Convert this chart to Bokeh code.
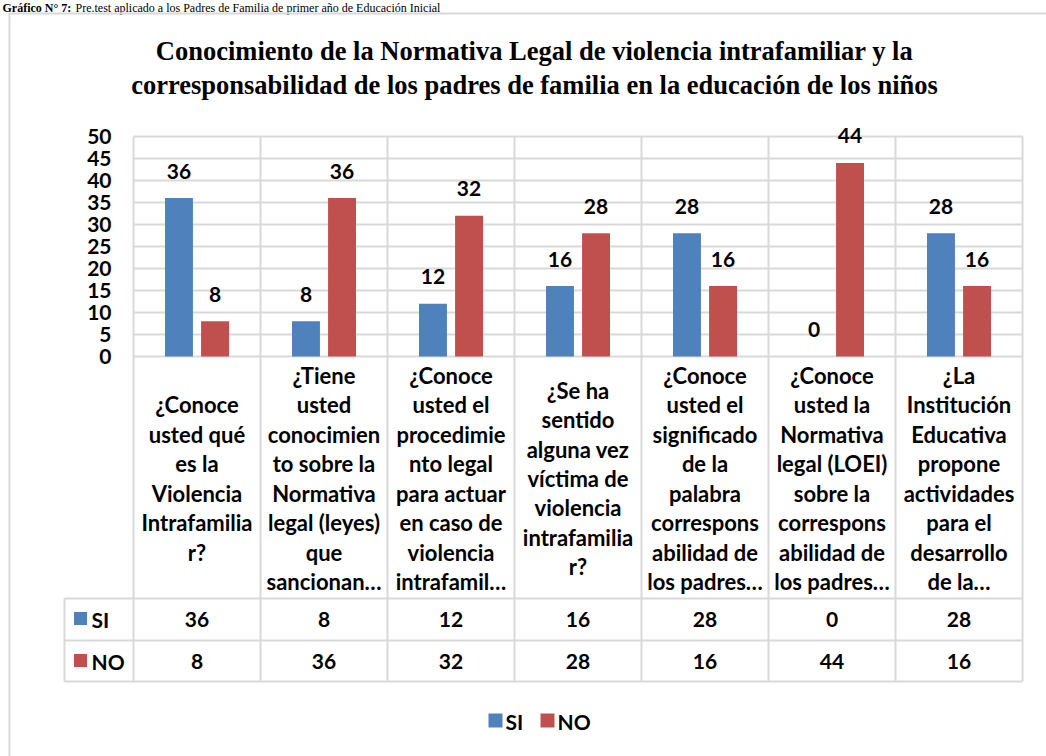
from bokeh.plotting import figure
from bokeh.models import Range1d, ColumnDataSource
from bokeh.core.properties import value
from bokeh.embed import file_html
from bokeh.resources import INLINE

# ---------------- data ----------------
categories = [
    "¿Conoce\nusted qué\nes la\nViolencia\nIntrafamilia\nr?",
    "¿Tiene\nusted\nconocimien\nto sobre la\nNormativa\nlegal (leyes)\nque\nsancionan…",
    "¿Conoce\nusted el\nprocedimie\nnto legal\npara actuar\nen caso de\nviolencia\nintrafamil…",
    "¿Se ha\nsentido\nalguna vez\nvíctima de\nviolencia\nintrafamilia\nr?",
    "¿Conoce\nusted el\nsignificado\nde la\npalabra\ncorrespons\nabilidad de\nlos padres…",
    "¿Conoce\nusted la\nNormativa\nlegal (LOEI)\nsobre la\ncorrespons\nabilidad de\nlos padres…",
    "¿La\nInstitución\nEducativa\npropone\nactividades\npara el\ndesarrollo\nde la…",
]
si_values = [36, 8, 12, 16, 28, 0, 28]
no_values = [8, 36, 32, 28, 16, 44, 16]
series_names = ["SI", "NO"]
y_ticks = [0, 5, 10, 15, 20, 25, 30, 35, 40, 45, 50]
title_lines = [
    "Conocimiento de la Normativa Legal de violencia intrafamiliar y la",
    "corresponsabilidad de los padres de familia en la educación de los niños",
]
caption_bold = "Gráfico N° 7:"
caption_rest = "Pre.test aplicado a los Padres de Familia de primer año de Educación Inicial"

# ---------------- layout / style ----------------
W, H = 1046, 756
PAGE = 0
PLOT_LEFT_PX = 133      # page px of category axis start
CAT_PX = 127            # px per category
ZERO_PX = 356           # page px of value 0
UNIT_PX = 4.4           # px per value unit
Y_MAX = 50

def X(px):
    return (px - PLOT_LEFT_PX) / CAT_PX

def Y(py):
    return (ZERO_PX - py) / UNIT_PX

BLUE = "#4F81BD"
RED = "#C0504D"
GRID = "#D9D9D9"
TXT = "#000000"
SANS = value("Lato")
SERIF = value("Liberation Serif")
NUM_SIZE = "21px"
CAT_SIZE = "22px"

p = figure(width=W, height=H,
           x_range=Range1d(X(PAGE), X(PAGE + W)),
           y_range=Range1d(Y(PAGE + H), Y(PAGE)),
           x_axis_type=None, y_axis_type=None,
           output_backend="svg", toolbar_location=None,
           min_border=0)
p.outline_line_color = None
p.background_fill_color = "white"
p.border_fill_color = "white"

n = len(categories)
centers = [i + 0.5 for i in range(n)]

# caption above the chart
p.text(x=[X(2)], y=[Y(0)], text=[caption_bold], text_font=SERIF, text_font_style="bold",
       text_font_size="12px", text_color=TXT, text_align="left", text_baseline="top")
p.text(x=[X(75)], y=[Y(0)], text=[caption_rest], text_font=SERIF, text_font_style="normal",
       text_font_size="12px", text_color=TXT, text_align="left", text_baseline="top")

# outer chart border (left and top edges visible)
p.segment(x0=[X(9), X(8)], y0=[Y(13), Y(13)], x1=[X(9), X(1060)], y1=[Y(770), Y(13)],
          line_color=GRID, line_width=2)

# horizontal gridlines
p.segment(x0=[0] * len(y_ticks), y0=y_ticks, x1=[n] * len(y_ticks), y1=y_ticks,
          line_color=GRID, line_width=2)
# vertical category lines running through labels and table
table_top, table_mid, table_bot = Y(598), Y(640), Y(681)
p.segment(x0=list(range(n + 1)), y0=[Y_MAX] * (n + 1), x1=list(range(n + 1)), y1=[table_bot] * (n + 1),
          line_color=GRID, line_width=2)
# table lines
p.segment(x0=[X(64)] * 3, y0=[table_top, table_mid, table_bot], x1=[n] * 3,
          y1=[table_top, table_mid, table_bot], line_color=GRID, line_width=2)
p.segment(x0=[X(64)], y0=[table_top], x1=[X(64)], y1=[table_bot], line_color=GRID, line_width=2)

# bars
offset = 0.142
bw = 0.22
src = ColumnDataSource(dict(
    x_si=[c - offset for c in centers], x_no=[c + offset for c in centers],
    si=si_values, no=no_values,
    si_txt=[str(v) for v in si_values], no_txt=[str(v) for v in no_values],
))
p.vbar(x="x_si", top="si", bottom=0, width=bw, fill_color=BLUE, line_color=None, source=src)
p.vbar(x="x_no", top="no", bottom=0, width=bw, fill_color=RED, line_color=None, source=src)

# data labels
lab_kw = dict(text_font=SANS, text_font_style="bold", text_font_size=NUM_SIZE,
              text_color=TXT, text_align="center", text_baseline="middle", y_offset=-27)
p.text(x="x_si", y="si", text="si_txt", source=src, **lab_kw)
p.text(x="x_no", y="no", text="no_txt", source=src, **lab_kw)

# y tick labels
p.text(x=[X(111)] * len(y_ticks), y=y_ticks, text=[str(t) for t in y_ticks],
       text_font=SANS, text_font_style="bold", text_font_size=NUM_SIZE, text_color=TXT,
       text_align="right", text_baseline="middle")

# title
p.text(x=[X(534)] * 2, y=[Y(50), Y(84)], text=title_lines,
       text_font=SERIF, text_font_style="bold", text_font_size="26.5px", text_color=TXT,
       text_align="center", text_baseline="middle")

# category labels
p.text(x=centers, y=[Y(478)] * n, text=categories,
       text_font=SANS, text_font_style="bold", text_font_size=CAT_SIZE, text_color=TXT,
       text_align="center", text_baseline="middle", text_line_height=1.09)

# data table values
tbl_kw = dict(text_font=SANS, text_font_style="bold", text_font_size=NUM_SIZE,
              text_color=TXT, text_baseline="middle")
p.text(x=centers, y=[Y(619)] * n, text=[str(v) for v in si_values], text_align="center", **tbl_kw)
p.text(x=centers, y=[Y(661)] * n, text=[str(v) for v in no_values], text_align="center", **tbl_kw)
# table row headers with legend keys
p.scatter(x=[X(80)] * 2, y=[Y(618), Y(660)], marker="square", size=13,
          fill_color=[BLUE, RED], line_color=None)
p.text(x=[X(91)] * 2, y=[Y(619), Y(661)], text=series_names, text_align="left", **tbl_kw)

# bottom legend
p.scatter(x=[X(495), X(547)], y=[Y(720)] * 2, marker="square", size=14,
          fill_color=[BLUE, RED], line_color=None)
p.text(x=[X(505), X(557)], y=[Y(721)] * 2, text=series_names, text_align="left", **tbl_kw)

open("out.html", "w").write(file_html(p, INLINE))
